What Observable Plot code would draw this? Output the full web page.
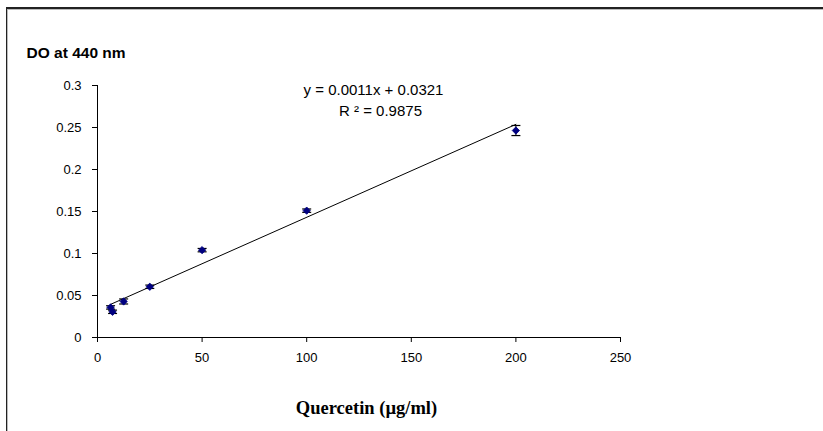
<!DOCTYPE html>
<html>
<head>
<meta charset="utf-8">
<script src="https://cdn.jsdelivr.net/npm/d3@7"></script>
<script src="https://cdn.jsdelivr.net/npm/@observablehq/plot@0.6"></script>
<style>
  html, body { margin: 0; padding: 0; background: #fff; }
  #wrap { position: relative; width: 823px; height: 431px; overflow: hidden; }
  #frame { position: absolute; left: 6px; top: 7px; width: 900px; height: 500px;
           border-top: 2px solid #222; border-left: 1px solid #222;
           box-shadow: inset 1px 1px 0 #bbb; }
  #chart { position: absolute; left: 0; top: 0; }
</style>
</head>
<body>
<div id="wrap"><div id="frame"></div><div id="chart"></div></div>
<script>
const concentration = [6.25, 7.2, 12.5, 25, 50, 100, 200];
const absorbance    = [0.0358, 0.0306, 0.0429, 0.0604, 0.104, 0.151, 0.2464];
const errorValues   = [0.002, 0.002, 0.003, 0.002, 0.002, 0.002, 0.006];
const xTicks = [0, 50, 100, 150, 200, 250];
const yTicks = [0, 0.05, 0.1, 0.15, 0.2, 0.25, 0.3];
const yTitle = "DO at 440 nm";
const xTitle = "Quercetin (µg/ml)";
const equation = "y = 0.0011x + 0.0321";
const rSquared = "0.9875";

const data = concentration.map((x, i) => ({x, y: absorbance[i], lo: absorbance[i] - errorValues[i], hi: absorbance[i] + errorValues[i]}));

const capSymbol = {
  draw(context, size) {
    const w = 4.5;
    context.moveTo(-w, 0);
    context.lineTo(w, 0);
  }
};

const plot = Plot.plot({
  width: 823,
  height: 431,
  marginLeft: 97,
  marginRight: 203,
  marginTop: 85,
  marginBottom: 94,
  style: {fontFamily: "Arial, 'Liberation Sans', sans-serif", fontSize: "13px", color: "#000", background: "transparent"},
  x: {domain: [0, 250], ticks: xTicks, tickSize: 5, tickPadding: 10, tickFormat: d => String(d), label: null},
  y: {domain: [0, 0.3], ticks: yTicks, tickSize: 5, tickPadding: 11, tickFormat: d => String(d), label: null},
  marks: [
    Plot.ruleX([0], {stroke: "#000"}),
    Plot.ruleY([0], {stroke: "#000"}),
    Plot.linearRegressionY(data, {x: "x", y: "y", ci: 0, stroke: "#000", strokeWidth: 1}),
    Plot.ruleX(data, {x: "x", y1: "lo", y2: "hi", stroke: "#000", strokeWidth: 1}),
    Plot.dot(data, {x: "x", y: "lo", symbol: capSymbol, r: 1, stroke: "#000", strokeWidth: 1.2}),
    Plot.dot(data, {x: "x", y: "hi", symbol: capSymbol, r: 1, stroke: "#000", strokeWidth: 1.2}),
    Plot.dot(data, {x: "x", y: "y", symbol: "diamond2", r: 3.3, fill: "#000080", stroke: "#000080", strokeWidth: 0.8}),
    Plot.text([yTitle], {frameAnchor: "top-left", lineAnchor: "middle", textAnchor: "start", dx: -71, dy: -32, text: d => d, fontWeight: "bold", fontSize: 15.5}),
    Plot.text([xTitle], {frameAnchor: "bottom", lineAnchor: "middle", dx: 7.5, dy: 71, text: d => d, fontWeight: "bold", fontSize: 18.5, fontFamily: "'Liberation Serif', 'Times New Roman', serif"}),
    Plot.text([equation], {frameAnchor: "top", lineAnchor: "middle", dx: 14.5, dy: 5, text: d => d, fontSize: 15}),
    Plot.text([rSquared], {frameAnchor: "top", lineAnchor: "middle", dx: 21.5, dy: 26, text: d => "R \u00B2 = " + d, fontSize: 15})
  ]
});
document.getElementById("chart").appendChild(plot);
</script>
</body>
</html>
